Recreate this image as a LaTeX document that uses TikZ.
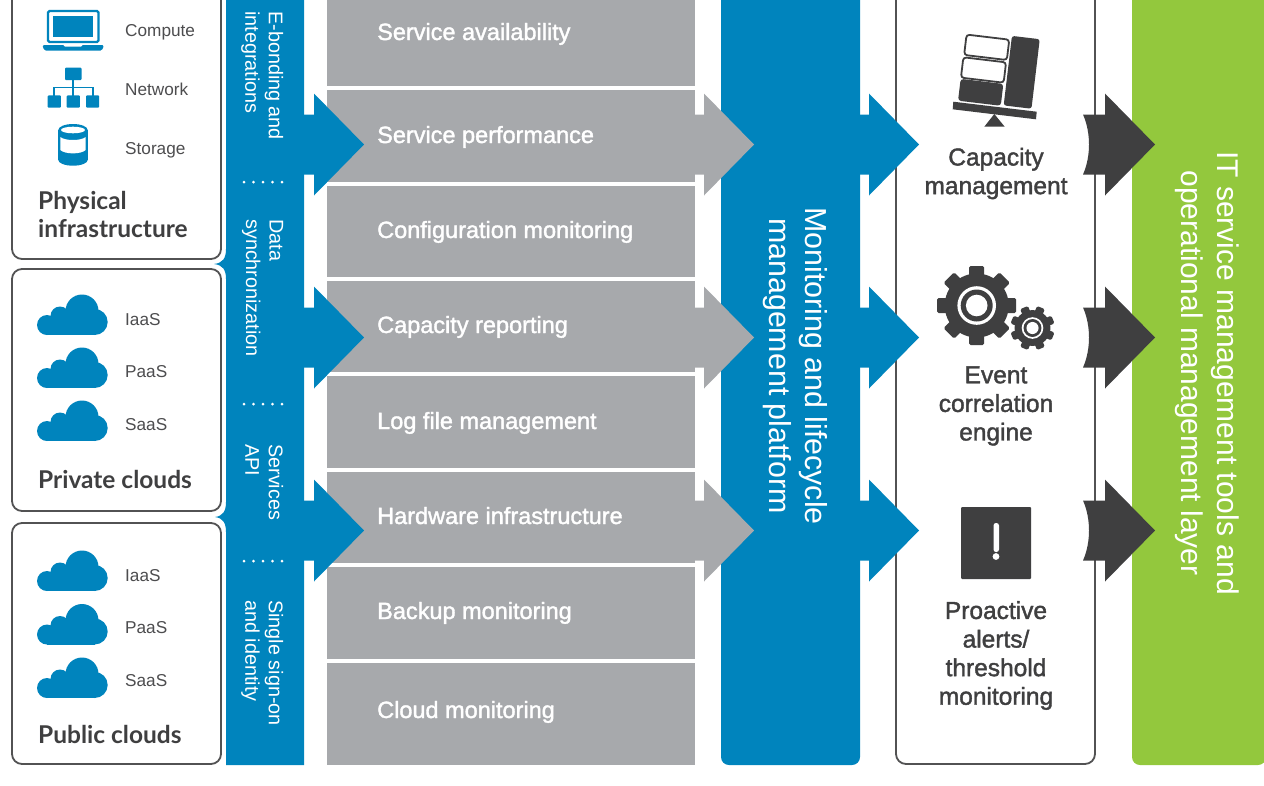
\documentclass[tikz,border=0pt]{standalone}
\usepackage{fontspec}
\setmainfont{Liberation Sans}
\newfontfamily\headfont{Lato}
\newfontfamily\medfont[FakeBold=1.6]{Liberation Sans}
\definecolor{dellblue}{HTML}{0084BD}
\definecolor{rowgray}{HTML}{A7A9AC}
\definecolor{darkgray}{HTML}{3F3F40}
\definecolor{toolgreen}{HTML}{93C83D}
\definecolor{textgray}{HTML}{4D4D4F}
\tikzset{
  panelbox/.style={draw=darkgray!90,line width=1.8pt,rounded corners=10pt,fill=white},
  smalllabel/.style={anchor=base west,inner sep=0pt,text=textgray,font=\fontsize{17.2}{20}\selectfont},
  headlabel/.style={anchor=west,inner sep=0pt,align=left,text=darkgray,font=\headfont\bfseries\fontsize{24.5}{28}\selectfont},
  rowlabel/.style={anchor=base west,inner sep=0pt,text=white,font=\medfont\fontsize{23.5}{27}\selectfont},
  sidelabel/.style={rotate=-90,anchor=north west,inner sep=0pt,align=left,text=white,font=\fontsize{19.8}{23.6}\selectfont},
  biglabel/.style={rotate=-90,inner sep=0pt,align=center,text=white,font=\fontsize{30}{36.5}\selectfont},
  toollabel/.style={inner sep=0pt,align=center,text=darkgray,font=\medfont\fontsize{24.5}{28.6}\selectfont},
  cloudicon/.pic={
    \fill[dellblue](10,-10)circle(10);
    \fill[dellblue](23,-19)circle(9.5);
    \fill[dellblue](45,-24)circle(16.5);
    \fill[dellblue](57.7,-13)circle(13);
    \fill[dellblue](10,-17)rectangle(58,0);
  },
  gearicon/.pic={
    \foreach \a in {0,45,...,315}{\fill[darkgray,rotate=\a,rounded corners=1.5](-7.5,-39.5)rectangle(7.5,-20);}
    \fill[darkgray](0,0)circle(32);
    \fill[white](0,0)circle(19.3);
    \fill[darkgray](0,0)circle(16);
    \fill[white](0,0)circle(10.8);
  },
}
\begin{document}
\begin{tikzpicture}[x=1pt,y=-1pt]
\path[use as bounding box,clip](0,0)rectangle(1264,785);
\draw[panelbox](12,-30)rectangle(221,259);
\draw[panelbox](12,269)rectangle(221,511);
\draw[panelbox](12,523)rectangle(221,764);
\fill[dellblue](226,-20)--(226,249)..controls(226,258)and(223,263)..(214,264)..controls(223,265)and(226,270)..(226,279)
  --(226,502)..controls(226,511)and(223,516)..(215,517)..controls(223,518)and(226,523)..(226,532)--(226,765)--(304,765)--(304,-20)--cycle;
\foreach \top/\bot in {-20/86,90/181.5,185.5/277,281/372,376/468,472/563,567/659,663/765}{
  \fill[rowgray](327,\top)rectangle(695,\bot);
}
\foreach \y in {144.5,337.5,530.5}{
  \fill[dellblue](304,\y-30)--(314,\y-30)--(314,\y-51)--(364,\y)--(314,\y+51)--(314,\y+30)--(304,\y+30)--cycle;
}
\fill[dellblue,rounded corners=8pt](721,-20)rectangle(860,765);
\fill[toolgreen,rounded corners=8pt](1132,-20)rectangle(1266,765);
\draw[panelbox](896,-30)rectangle(1095,764);
\foreach \y in {144.5,337.5,530.5}{
  \fill[rowgray](690,\y-30)--(704,\y-30)--(704,\y-51)--(754,\y)--(704,\y+51)--(704,\y+30)--(690,\y+30)--cycle;
  \fill[dellblue](855,\y-30)--(869,\y-30)--(869,\y-51)--(919,\y)--(869,\y+51)--(869,\y+30)--(855,\y+30)--cycle;
  \fill[darkgray](1083,\y-30)..controls(1091,\y-12)and(1091,\y+12)..(1083,\y+30)--(1105,\y+30)--(1105,\y+51)--(1155,\y)--(1105,\y-51)--(1105,\y-30)--cycle;
}
\foreach \y in {182,404,561}{
  \foreach \x in {244,253.5,263,272.5,282}{\fill[white](\x,\y)circle(1.5);}
}
\node[sidelabel](ebond)at(283.5,11){E-bonding and\\integrations};
\node[sidelabel](datasync)at(283.5,219){Data\\synchronization};
\node[sidelabel](services)at(283.5,444){Services\\API};
\node[sidelabel](signon)at(283.5,600){Single sign-on\\and identity};
\foreach \n/\y/\lab in {1/40/Service availability,2/143/Service performance,3/238/Configuration monitoring,4/333/Capacity reporting,5/429/Log file management,6/524/Hardware infrastructure,7/619/Backup monitoring,8/718/Cloud monitoring}{
  \node[rowlabel](row\n)at(377,\y){\lab};
}
\node[biglabel,font=\fontsize{30.4}{36.5}\selectfont](platform)at(795.5,366){Monitoring and lifecycle\\management platform};
\node[biglabel](itsm)at(1207,373){IT service management tools and\\operational management layer};
% physical infrastructure icons
\draw[dellblue,line width=2.4pt,rounded corners=1.5pt](48,11)rectangle(98.5,42);
\fill[dellblue](53,16)rectangle(93,37);
\fill[dellblue,rounded corners=1.5pt](42.3,45)--(104,45)--(102,50.5)--(44.3,50.5)--cycle;
\fill[white](63,44.5)--(83,44.5)--(81,46.5)--(65,46.5)--cycle;
\fill[dellblue,rounded corners=1pt](65,67.5)rectangle(81.5,80);
\foreach \x in {47.7,66.7,86}{\fill[dellblue,rounded corners=1pt](\x,95.3)rectangle(\x+13.2,107.7);}
\draw[dellblue,line width=1.8pt](54.3,96)--(54.3,87.5)--(92.6,87.5)--(92.6,96)(73.3,79)--(73.3,96);
\fill[dellblue](73,130)ellipse(14.7 and 6);
\fill[dellblue](58.3,130)rectangle(87.7,160);
\fill[dellblue](73,160)ellipse(14.7 and 5.7);
\fill[white](73,130)ellipse(12 and 3.3);
\fill[white](60.3,137)..controls(65,141)and(81,141)..(85.7,137)--(85.7,150)..controls(81,154.5)and(65,154.5)..(60.3,150)--cycle;
\node[smalllabel](compute)at(125,36){Compute};
\node[smalllabel](network)at(125,95){Network};
\node[smalllabel](storage)at(125,154){Storage};
\node[headlabel](physical)at(38,214){Physical\\infrastructure};
% cloud rows
\foreach \y/\b/\lab in {335/325.5/IaaS,388/377.5/PaaS,441/430.5/SaaS}{
  \pic at(37,\y){cloudicon};
  \node[smalllabel](priv\lab)at(125,\b){\lab};
}
\node[headlabel](private)at(38,479){Private clouds};
\foreach \y/\b/\lab in {591/581.5/IaaS,644.5/633/PaaS,698/686.5/SaaS}{
  \pic at(37,\y){cloudicon};
  \node[smalllabel](pub\lab)at(125,\b){\lab};
}
\node[headlabel](public)at(38,734){Public clouds};
% tool icons
\fill[darkgray](953.3,101.7)--(1036.7,111.7)--(1036,119.3)--(952.7,109.3)--cycle;
\fill[darkgray](994.3,114)--(984.3,126.7)--(1004.7,126.7)--cycle;
\node[rotate=-6.8,fill=darkgray,rounded corners=2.5pt,minimum width=28pt,minimum height=70pt,inner sep=0pt](tallblock)at(1021.7,72.3){};
\node[rotate=-6.8,draw=darkgray,fill=white,line width=1.8pt,rounded corners=3pt,minimum width=43pt,minimum height=20.5pt,inner sep=0pt](blocka)at(986.7,47.3){};
\node[rotate=-6.8,draw=darkgray,fill=white,line width=1.8pt,rounded corners=3pt,minimum width=43pt,minimum height=20.5pt,inner sep=0pt](blockb)at(983.5,70){};
\node[rotate=-6.8,fill=darkgray,rounded corners=3pt,minimum width=43pt,minimum height=22pt,inner sep=0pt](blockc)at(980.7,92.3){};
\pic at(976.7,305.5){gearicon};
\fill[white](1032.5,328)circle(22.5);
\pic[scale=0.56,rotate=22.5]at(1032.5,328){gearicon};
\fill[darkgray,rounded corners=1pt](961,507)rectangle(1031,579);
\fill[white,rounded corners=2.5pt](993.5,523)rectangle(999,552);
\fill[white](996,556.5)circle(3.4);
\node[toollabel](capacity)at(996,173.5){Capacity\\management};
\node[toollabel](event)at(996,406){Event\\correlation\\engine};
\node[toollabel](proactive)at(996,655.5){Proactive\\alerts/\\threshold\\monitoring};
\end{tikzpicture}
\end{document}
